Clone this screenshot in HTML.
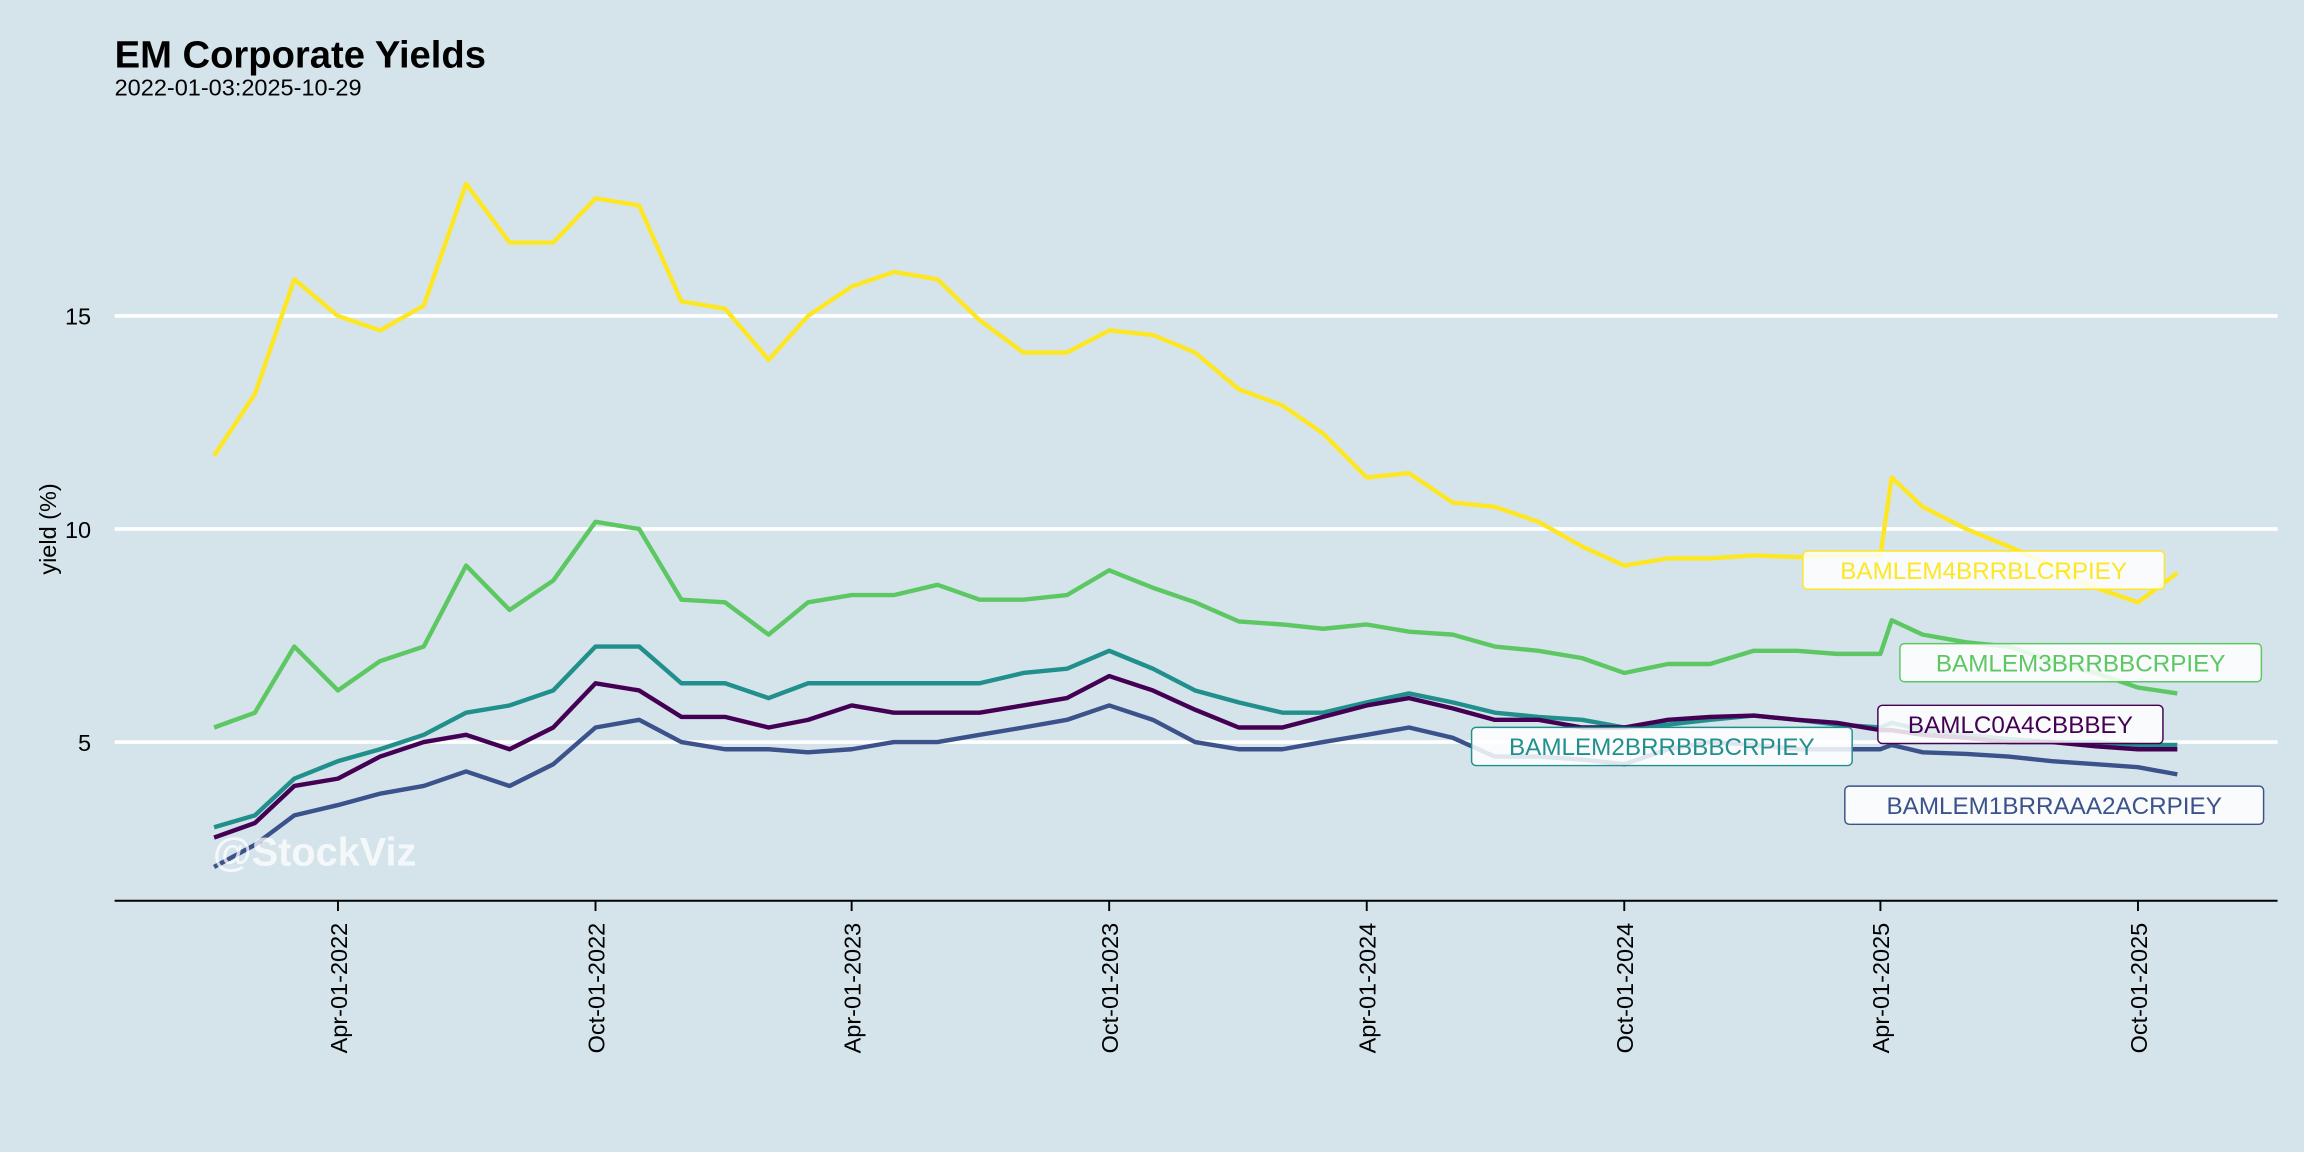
<!DOCTYPE html>
<html><head><meta charset="utf-8"><style>
html,body{margin:0;padding:0;background:#d5e4eb;}
svg{display:block;font-family:"Liberation Sans",sans-serif;}
</style></head><body>
<svg id="chart" width="2304" height="1152" viewBox="0 0 1568 784" xmlns="http://www.w3.org/2000/svg">
<rect x="0" y="0" width="1568" height="784" fill="#d5e4eb"/>
<text x="78" y="46" font-size="26" font-weight="bold" fill="#000">EM Corporate Yields</text>
<text x="78" y="65" font-size="16" fill="#000">2022-01-03:2025-10-29</text>
<text transform="translate(38,360) rotate(-90)" text-anchor="middle" font-size="16" fill="#000">yield (%)</text>
<g id="grid"></g>
<g id="series"></g>
<text x="145" y="589" font-size="27" font-weight="bold" fill="#ffffff" fill-opacity="0.75">@StockViz</text>
<g id="labels"></g>
<g id="axes"></g>
</svg>
<script>
const dates = ["2022-01-03","2022-02-01","2022-03-01","2022-04-01","2022-05-01","2022-06-01","2022-07-01","2022-08-01","2022-09-01","2022-10-01","2022-11-01","2022-12-01",
"2023-01-01","2023-02-01","2023-03-01","2023-04-01","2023-05-01","2023-06-01","2023-07-01","2023-08-01","2023-09-01","2023-10-01","2023-11-01","2023-12-01",
"2024-01-01","2024-02-01","2024-03-01","2024-04-01","2024-05-01","2024-06-01","2024-07-01","2024-08-01","2024-09-01","2024-10-01","2024-11-01","2024-12-01",
"2025-01-01","2025-02-01","2025-03-01","2025-04-01","2025-04-09","2025-05-01","2025-06-01","2025-07-01","2025-08-01","2025-09-01","2025-10-01","2025-10-29"];
const em4 = [11.72,13.17,15.86,15.0,14.66,15.24,18.1,16.72,16.72,17.76,17.59,15.34,15.17,13.97,15.0,15.69,16.03,15.86,14.9,14.14,14.14,14.66,14.55,14.14,13.28,12.9,12.24,11.21,11.31,10.62,10.52,10.17,9.59,9.14,9.31,9.31,9.38,9.34,9.38,9.38,11.21,10.52,10.0,9.59,9.14,8.62,8.28,8.97];
const em3 = [5.34,5.69,7.24,6.21,6.9,7.24,9.14,8.1,8.79,10.17,10.0,8.34,8.28,7.52,8.28,8.45,8.45,8.69,8.34,8.34,8.45,9.03,8.62,8.28,7.83,7.76,7.66,7.76,7.59,7.52,7.24,7.14,6.97,6.62,6.83,6.83,7.14,7.14,7.07,7.07,7.86,7.52,7.34,7.24,6.9,6.62,6.28,6.14];
const em2 = [3.0,3.28,4.14,4.55,4.83,5.17,5.69,5.86,6.21,7.24,7.24,6.38,6.38,6.03,6.38,6.38,6.38,6.38,6.38,6.62,6.72,7.14,6.72,6.21,5.93,5.69,5.69,5.93,6.14,5.93,5.69,5.59,5.52,5.34,5.41,5.52,5.62,5.52,5.41,5.34,5.45,5.28,5.17,5.07,5.0,5.0,4.93,4.93];
const bbb = [2.76,3.10,3.97,4.14,4.66,5.0,5.17,4.83,5.34,6.38,6.21,5.59,5.59,5.34,5.52,5.86,5.69,5.69,5.69,5.86,6.03,6.55,6.21,5.76,5.34,5.34,5.59,5.86,6.03,5.79,5.52,5.52,5.34,5.34,5.52,5.59,5.62,5.52,5.45,5.28,5.28,5.17,5.1,5.0,5.0,4.9,4.83,4.83];
const em1 = [2.07,2.59,3.28,3.52,3.79,3.97,4.31,3.97,4.48,5.34,5.52,5.0,4.83,4.83,4.76,4.83,5.0,5.0,5.17,5.34,5.52,5.86,5.52,5.0,4.83,4.83,5.0,5.17,5.34,5.1,4.66,4.66,4.59,4.48,4.83,5.0,4.93,4.83,4.83,4.83,4.93,4.76,4.72,4.66,4.55,4.48,4.41,4.24];
const yTicks = [5,10,15];
const xTicks = ["2022-04-01","2022-10-01","2023-04-01","2023-10-01","2024-04-01","2024-10-01","2025-04-01","2025-10-01"];
const xTickLabels = ["Apr-01-2022","Oct-01-2022","Apr-01-2023","Oct-01-2023","Apr-01-2024","Oct-01-2024","Apr-01-2025","Oct-01-2025"];
const seriesNames = ["BAMLEM4BRRBLCRPIEY","BAMLEM3BRRBBCRPIEY","BAMLEM2BRRBBBCRPIEY","BAMLC0A4CBBBEY","BAMLEM1BRRAAA2ACRPIEY"];
const seriesColors = ["#fde725","#5dc863","#21908c","#440154","#3b528b"];

const NS="http://www.w3.org/2000/svg";
const t0=Date.parse("2022-04-01"), t1=Date.parse("2025-10-01");
function xS(d){return 230+(Date.parse(d)-t0)/(t1-t0)*1225;}
function yS(v){return 505-(v-5)*29;}
function mk(tag,attrs,parent){const e=document.createElementNS(NS,tag);for(const k in attrs)e.setAttribute(k,attrs[k]);parent.appendChild(e);return e;}
const grid=document.getElementById('grid'), axes=document.getElementById('axes'), sg=document.getElementById('series'), lg=document.getElementById('labels');
yTicks.forEach(v=>{
  const l=mk('line',{x1:78,x2:1550,y1:yS(v),y2:yS(v),stroke:'#ffffff','stroke-width':2.5},grid);
  
  
  const t=mk('text',{x:62,y:yS(v)+6,'text-anchor':'end','font-size':16,fill:'#000'},axes);
  t.textContent=v;
  
  
});
const ax=mk('line',{x1:78,x2:1550,y1:613,y2:613,stroke:'#000','stroke-width':1.3},axes);


xTicks.forEach((d,i)=>{
  const x=xS(d);
  const tk=mk('line',{x1:x,x2:x,y1:613,y2:620,stroke:'#000','stroke-width':1.3},axes);
  
  
  const t=mk('text',{transform:`translate(${x+6},628) rotate(-90)`,'text-anchor':'end','font-size':16,fill:'#000'},axes);
  t.textContent=xTickLabels[i];
  
  
});
const allSeries=[em4,em3,em2,bbb,em1];
allSeries.forEach((vals,si)=>{
  const pts=vals.map((v,i)=>xS(dates[i]).toFixed(1)+','+yS(v).toFixed(1)).join(' ');
  const p=mk('polyline',{points:pts,fill:'none',stroke:seriesColors[si],'stroke-width':3,'stroke-linejoin':'round'},sg);
  
  
});
const labelPos=[[1350,388],[1416,451],[1131,508],[1375,493],[1398,548]];
[0,1,3,2,4].forEach(si=>{
  const [cx,cy]=labelPos[si];
  const g=mk('g',{},lg);
  
  
  const w=seriesNames[si].length*13.0+12;
  mk('rect',{x:cx-w/2,y:cy-13,width:w,height:26,rx:3,fill:'#ffffff','fill-opacity':0.85,stroke:seriesColors[si],'stroke-width':1},g);
  const t=mk('text',{x:cx,y:cy+6,'text-anchor':'middle','font-size':16.5,fill:seriesColors[si]},g);
  t.textContent=seriesNames[si];
});
</script>
</body></html>
